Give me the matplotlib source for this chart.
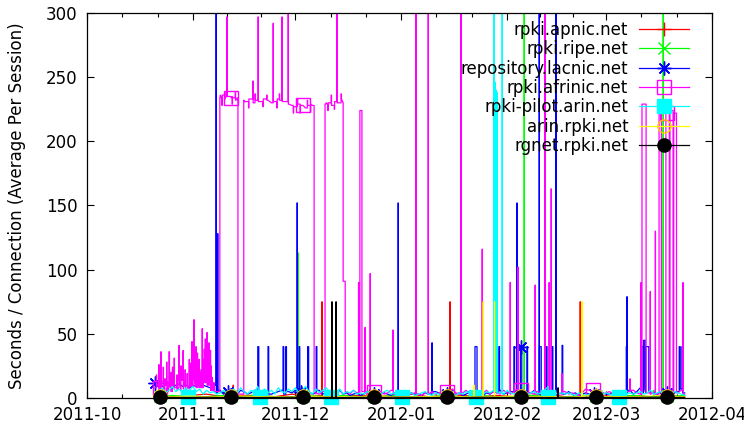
import numpy as np
import matplotlib
matplotlib.use('Agg')
import matplotlib.pyplot as plt
import matplotlib.dates as mdates
from matplotlib.ticker import FixedLocator
from matplotlib.lines import Line2D
from datetime import datetime

# ---------------- data (days since 2011-10-01) ----------------
START = datetime(2011, 10, 1)
names = ['rpki.apnic.net', 'rpki.ripe.net', 'repository.lacnic.net',
         'rpki.afrinic.net', 'rpki-pilot.arin.net', 'arin.rpki.net',
         'rgnet.rpki.net']
month_labels = ['2011-10', '2011-11', '2011-12', '2012-01', '2012-02',
                '2012-03', '2012-04']
y_ticks = [0, 50, 100, 150, 200, 250, 300]

# Each series: baseline samples (from day 20, every `step` days),
# pulses (start_day, end_day, value) and marked samples (day, value).

# rpki.apnic.net
apnic_base = [2, 1, 2, 3, 1, 2, 2, 1, 3, 2, 1, 2, 2, 1, 2, 3, 1, 2, 2, 1, 2, 1,
              2, 3, 1, 2, 2, 1, 2, 1, 2, 1]
apnic_pulses = [(42.8, 42.85, 10), (68.8, 68.85, 75), (106.3, 106.35, 75),
                (144.4, 144.45, 75)]
apnic_marks = [(21.4, 2), (42.2, 2), (63.2, 2), (84.0, 2), (105.4, 2),
               (127.1, 2), (149.1, 2), (169.8, 2)]

# rpki.ripe.net
ripe_base = [1, 2, 1, 1, 2, 1, 2, 1, 1, 2, 1, 2, 1, 1, 2, 1, 1, 2, 1, 2, 1, 1,
             2, 1, 1, 2, 1, 1, 2, 1, 1, 2]
ripe_pulses = [(61.7, 61.85, 113), (128.0, 128.05, 400), (166.0, 166.05, 6),
               (168.7, 168.75, 400)]
ripe_marks = [(21.4, 1.5), (42.2, 1.5), (63.2, 1.5), (84.0, 1.5), (105.4, 1.5),
              (127.1, 1.5), (149.1, 1.5), (169.8, 1.5)]

# repository.lacnic.net
lacnic_base = [12, 10, 9, 11, 10, 8, 10, 11, 9, 10, 8, 10, 9, 11, 10, 9, 8, 10,
               4, 6, 3, 5, 7, 4, 3, 6, 5, 3,
               4, 6, 3, 5, 4, 7, 3, 4, 5, 6,
               3, 5, 4, 6, 3, 8, 4, 5, 3, 4,
               6, 3, 4, 5, 3, 4, 6, 3, 4, 2,
               3, 4, 2, 3, 5, 3, 4, 2, 3, 4,
               3, 2, 4, 3, 5, 3, 2, 4, 3, 3,
               2, 4, 3, 3, 5, 4, 3, 2, 4, 3,
               3, 4, 2, 3, 5, 3, 4, 3, 2, 4,
               3, 5, 4, 6, 3, 4, 5, 3, 6, 4,
               5, 3, 4, 6, 3, 5, 4, 3, 5, 4,
               3, 4, 3, 5, 3, 4, 2, 3, 4, 3,
               4, 3, 2, 4, 3, 3, 4, 2, 3, 5,
               4, 6, 3, 5, 8, 4, 6, 5, 4, 3,
               5, 4, 3, 6, 4, 5, 7, 4]
lacnic_pulses = [(37.8, 37.85, 400), (38.2, 38.35, 128), (50.0, 50.3, 40),
                 (53.0, 53.2, 40), (57.4, 57.6, 40), (58.2, 58.4, 40),
                 (61.5, 61.6, 152), (62.1, 62.3, 40), (64.6, 64.9, 40),
                 (67.1, 67.3, 40), (91.1, 91.15, 152), (101.0, 101.1, 43),
                 (113.6, 114.2, 40), (120.6, 120.8, 40), (125.0, 125.2, 40),
                 (125.9, 125.95, 152), (126.9, 127.3, 40), (128.8, 129.0, 40),
                 (132.4, 132.45, 400), (132.5, 133.0, 40), (134.4, 134.7, 40),
                 (136.2, 136.4, 40), (137.3, 137.35, 400), (139.1, 139.3, 41),
                 (157.9, 158.0, 40), (158.1, 158.15, 79), (162.2, 162.3, 50),
                 (162.4, 162.9, 40), (163.0, 163.4, 45), (163.6, 164.5, 40),
                 (173.4, 173.7, 40), (174.2, 174.4, 40)]
lacnic_marks = [(19.9, 12), (41.3, 5), (62.7, 5), (84.0, 3), (105.4, 3),
                (127.1, 40), (148.5, 3), (169.8, 4)]

# rpki.afrinic.net
afrinic_base = [8, 12, 6, 10, 5, 12, 8, 6, 14, 7, 10, 9, 15, 8, 20, 12, 10, 6,
                5,
                234, 236, 233, 235, 234, 232,
                3,
                232, 231, 233, 230, 232, 231, 233, 232, 230, 231, 233, 232, 231,
                229, 228, 227, 229, 228, 226, 228, 229,
                4, 3, 5,
                229, 230, 228, 231, 230, 233,
                5, 3, 6, 4, 4, 5, 4, 6, 3, 4,
                5, 3, 4, 6, 3, 2, 4, 3, 5, 3,
                4, 3, 2, 4, 3, 5, 3, 4, 2, 3,
                5, 7, 4, 3, 4, 6, 3, 4, 5, 3,
                4, 6, 3, 5, 4, 3, 6, 4, 3, 5,
                7, 4, 6, 3, 4, 3, 5, 4, 3, 4,
                3, 5, 4, 3, 5, 3, 4, 3, 2, 4,
                7, 6, 5, 3, 4, 3, 4, 5, 3, 4,
                3, 4, 5, 3, 6, 4, 3, 4, 4, 3,
                4, 3, 5, 4, 3, 4, 5, 4, 6, 3]
afrinic_pulses = [(20.3, 20.4, 18), (21.0, 21.1, 26),
                  (21.6, 21.75, 36), (22.3, 22.4, 24), (22.8, 22.9, 15),
                  (23.3, 23.4, 28), (23.7, 23.8, 12),
                  (24.0, 24.15, 36), (24.6, 24.7, 20), (25.0, 25.1, 24),
                  (25.5, 25.6, 31), (26.3, 26.4, 18),
                  (26.9, 27.05, 41), (27.5, 27.6, 25), (28.1, 28.2, 37),
                  (28.7, 28.8, 22), (29.3, 29.4, 19),
                  (29.9, 30.0, 30), (30.2, 30.3, 27), (30.7, 30.8, 44),
                  (31.3, 31.4, 61),
                  (31.9, 32.0, 40), (32.3, 32.4, 35), (32.8, 32.9, 30),
                  (33.0, 33.1, 20), (33.4, 33.5, 22),
                  (33.7, 33.8, 54), (34.0, 34.1, 30), (34.3, 34.4, 38),
                  (34.6, 34.7, 46),
                  (35.1, 35.2, 51), (35.4, 35.5, 28), (35.7, 35.8, 43),
                  (36.1, 36.2, 37), (36.3, 36.4, 25),
                  (36.6, 36.7, 16), (37.1, 37.2, 12),
                  (38.9, 39.0, 234), (39.5, 39.6, 228), (40.3, 40.4, 238),
                  (40.95, 41.0, 297), (42.5, 42.6, 229), (43.4, 43.5, 238),
                  (44.0, 44.2, 232),
                  (45.9, 46.0, 232), (47.3, 47.4, 226), (48.6, 48.65, 247),
                  (49.2, 49.3, 237), (50.1, 50.15, 297), (51.5, 51.6, 227),
                  (52.6, 52.7, 236), (54.5, 54.55, 292), (55.6, 55.7, 226),
                  (56.3, 56.4, 237), (57.1, 57.15, 297), (58.9, 58.95, 400),
                  (60.4, 60.5, 222), (61.6, 61.7, 233), (62.4, 62.5, 222),
                  (64.5, 64.6, 232), (65.4, 65.5, 223),
                  (66.0, 66.5, 228), (69.7, 70.0, 229), (70.5, 70.6, 224),
                  (71.5, 71.6, 236), (72.4, 72.5, 225), (73.2, 73.25, 400),
                  (74.4, 74.5, 237),
                  (75.0, 75.6, 91),
                  (79.5, 79.55, 90), (79.9, 80.5, 224), (81.4, 81.45, 55),
                  (82.9, 82.95, 97), (89.6, 89.65, 53), (96.3, 96.35, 400),
                  (99.9, 99.95, 400), (109.5, 109.55, 400),
                  (115.7, 115.75, 116), (123.9, 123.95, 90),
                  (126.2, 126.25, 102), (131.2, 131.25, 88),
                  (134.1, 134.15, 400), (135.3, 135.35, 90),
                  (135.9, 135.95, 163), (139.1, 139.15, 19),
                  (159.0, 159.05, 15), (162.2, 162.25, 90),
                  (162.5, 163.7, 229), (164.9, 164.95, 83),
                  (166.4, 166.45, 130), (167.5, 168.2, 224),
                  (169.5, 170.5, 222), (170.7, 171.6, 224),
                  (171.8, 172.6, 222), (174.5, 174.55, 90)]
afrinic_marks = [(21.4, 8), (42.2, 234), (63.2, 228), (84.0, 5), (105.4, 5),
                 (127.1, 6), (148.3, 6), (169.8, 222)]

# rpki-pilot.arin.net
pilot_base = [3, 5, 8, 4, 6, 9, 5, 7, 4, 8,
              6, 9, 5, 7, 3, 6, 4, 5, 3, 4,
              6, 3, 5, 7, 4, 8, 5, 3, 6, 4,
              9, 5, 7, 4, 6, 3, 8, 5, 4, 7,
              5, 8, 4, 6, 9, 5, 3, 7, 4, 6,
              8, 5, 6, 4, 7, 3, 5, 4, 6, 3,
              4, 3, 5, 3, 2, 4, 3, 5, 6, 3,
              4, 2, 3, 5, 3, 4, 2, 3, 4, 5,
              3, 2, 4, 3, 2, 3, 4, 3, 2, 4,
              3, 5, 4, 3, 6, 4, 3, 5, 4, 6,
              5, 4, 3, 6, 4, 3, 5, 4, 6, 3,
              4, 5, 3, 4, 6, 9, 5, 4, 3, 4,
              3, 4, 3, 2, 4, 3, 2, 3, 4, 3,
              2, 3, 4, 3, 2, 3, 4, 5, 3, 4,
              3, 4, 5, 3, 4, 6, 3, 4, 5, 3,
              4, 3, 5, 4, 3, 2]
pilot_pulses = [(119.1, 119.15, 400), (119.45, 119.5, 246),
                (119.6, 119.65, 205), (119.75, 119.8, 240),
                (119.9, 119.95, 200), (120.05, 120.1, 238),
                (121.55, 121.6, 400)]
pilot_marks = [(29.6, 1), (50.7, 1), (71.4, 1), (92.2, 1), (113.9, 1),
               (135.0, 1), (155.8, 1)]

# arin.rpki.net
arin_base = [1, 1, 1.5, 1, 1, 1.5, 1, 1, 1, 1.5, 1, 1, 1, 1.5, 1, 1, 1, 1.5, 1,
             1, 1, 1.5, 1, 1, 1, 1.5, 1, 1, 1, 1.5, 1, 1]
arin_pulses = [(113.3, 113.35, 10), (116.0, 116.05, 75), (119.3, 119.35, 75),
               (144.9, 144.95, 75)]
arin_marks = [(21.4, 1.8), (42.2, 1.8), (63.2, 1.8), (84.0, 1.8), (105.4, 1.8),
              (127.1, 1.8), (149.1, 1.8), (169.8, 1.8)]

# rgnet.rpki.net
rgnet_base = [0.4, 0.5, 0.4, 0.6, 0.4, 0.5, 0.4, 0.5, 0.6, 0.4, 0.5, 0.4, 0.5,
              0.4, 0.6, 0.5, 0.4, 0.5, 0.4, 0.6, 0.5, 0.4, 0.5, 0.4, 0.6, 0.4,
              0.5, 0.4, 0.5, 0.6, 0.4, 0.5]
rgnet_pulses = [(71.7, 71.75, 75), (72.9, 72.95, 75), (137.9, 137.95, 8)]
rgnet_marks = [(21.4, 0.6), (42.2, 0.6), (63.2, 0.6), (84.0, 0.6), (105.4, 0.6),
               (127.1, 0.6), (149.1, 0.6), (169.8, 0.6)]

series = [
    (20, 5, apnic_base, apnic_pulses, apnic_marks),
    (20, 5, ripe_base, ripe_pulses, ripe_marks),
    (20, 1, lacnic_base, lacnic_pulses, lacnic_marks),
    (20, 1, afrinic_base, afrinic_pulses, afrinic_marks),
    (20, 1, pilot_base, pilot_pulses, pilot_marks),
    (20, 5, arin_base, arin_pulses, arin_marks),
    (20, 5, rgnet_base, rgnet_pulses, rgnet_marks),
]

# ---------------- styles ----------------
styles = [
    dict(color='#ff0000', marker='+', ms=10, mfc='none', mec='#ff0000'),
    dict(color='#00ff00', marker='x', ms=9, mfc='none', mec='#00ff00'),
    dict(color='#0000ff', marker=(8, 2, 0), ms=10, mfc='none', mec='#0000ff'),
    dict(color='#ff00ff', marker='s', ms=9.5, mfc='none', mec='#ff00ff'),
    dict(color='#00ffff', marker='s', ms=9.5, mfc='#00ffff', mec='#00ffff'),
    dict(color='#ffff00', marker='o', ms=9.5, mfc='none', mec='#ffcc00'),
    dict(color='#000000', marker='o', ms=9.5, mfc='#000000', mec='#000000'),
]

W, H = 744, 425
fig = plt.figure(figsize=(W / 100, H / 100), dpi=100)
ax = fig.add_axes([87 / W, 1 - 398 / H, (712 - 87) / W, (398 - 13) / H])

x0 = mdates.date2num(START)


def build(bs, st, base, pulses, marks):
    bdays = [bs + i * st for i in range(len(base))]
    pts = []
    for d, v in zip(bdays, base):
        if any(s <= d <= e for s, e, _ in pulses):
            continue
        pts.append((d, v, False))
    for s, e, v in pulses:
        prev = [bv for bd, bv in zip(bdays, base) if bd < s]
        nxt = [bv for bd, bv in zip(bdays, base) if bd > e]
        pb = prev[-1] if prev else base[0]
        nb = nxt[0] if nxt else base[-1]
        pts += [(s, pb, False), (s, v, False), (e, v, False), (e, nb, False)]
    pts += [(d, v, True) for d, v in marks]
    pts.sort(key=lambda p: p[0])
    days = np.array([p[0] for p in pts], dtype=float)
    vals = np.array([p[1] for p in pts], dtype=float)
    mk = np.array([p[2] for p in pts])
    return days, vals, mk


handles = []
for (bs, st, base, pulses, marks), sty in zip(series, styles):
    days, vals, mk = build(bs, st, base, pulses, marks)
    xs = x0 + days
    ax.plot(xs, vals, color=sty['color'], lw=0.9)
    ax.plot(xs[mk], vals[mk], linestyle='none', marker=sty['marker'],
            ms=sty['ms'], mfc=sty['mfc'], mec=sty['mec'], mew=1.0,
            clip_on=False)
    handles.append(Line2D([], [], color=sty['color'], lw=0.9,
                          marker=sty['marker'], ms=sty['ms'], mfc=sty['mfc'],
                          mec=sty['mec'], mew=1.0))

# ---------------- axes ----------------
month_starts = [datetime(2011, 10, 1), datetime(2011, 11, 1),
                datetime(2011, 12, 1), datetime(2012, 1, 1),
                datetime(2012, 2, 1), datetime(2012, 3, 1),
                datetime(2012, 4, 1)]
mnums = [mdates.date2num(d) for d in month_starts]
minor = []
for a, b in zip(mnums[:-1], mnums[1:]):
    minor += [a + (b - a) / 3, a + 2 * (b - a) / 3]

ax.set_xlim(mnums[0], mnums[-1])
ax.set_ylim(0, 300)
ax.xaxis.set_major_locator(FixedLocator(mnums))
ax.xaxis.set_minor_locator(FixedLocator(minor))
ax.set_xticklabels(month_labels)
ax.set_yticks(y_ticks)
ax.set_yticklabels([str(v) for v in y_ticks])

ax.tick_params(which='both', direction='in', top=True, right=True,
               labelsize=12, colors='black')
ax.tick_params(which='major', length=5, width=0.8)
ax.tick_params(which='minor', length=3, width=0.8)
ax.tick_params(axis='x', pad=6)
ax.tick_params(axis='y', pad=7)
for s in ax.spines.values():
    s.set_linewidth(0.9)

ax.set_ylabel('Seconds / Connection (Average Per Session)', fontsize=12,
              labelpad=14)

leg = ax.legend(handles, names, loc='upper right',
                bbox_to_anchor=(689 / W, 1 - 21 / H),
                bbox_transform=fig.transFigure, frameon=False,
                markerfirst=False, handlelength=3.0, handletextpad=0.65,
                labelspacing=0.08, borderpad=0, borderaxespad=0,
                fontsize=12, numpoints=1)

fig.savefig('out.png', dpi=100)
